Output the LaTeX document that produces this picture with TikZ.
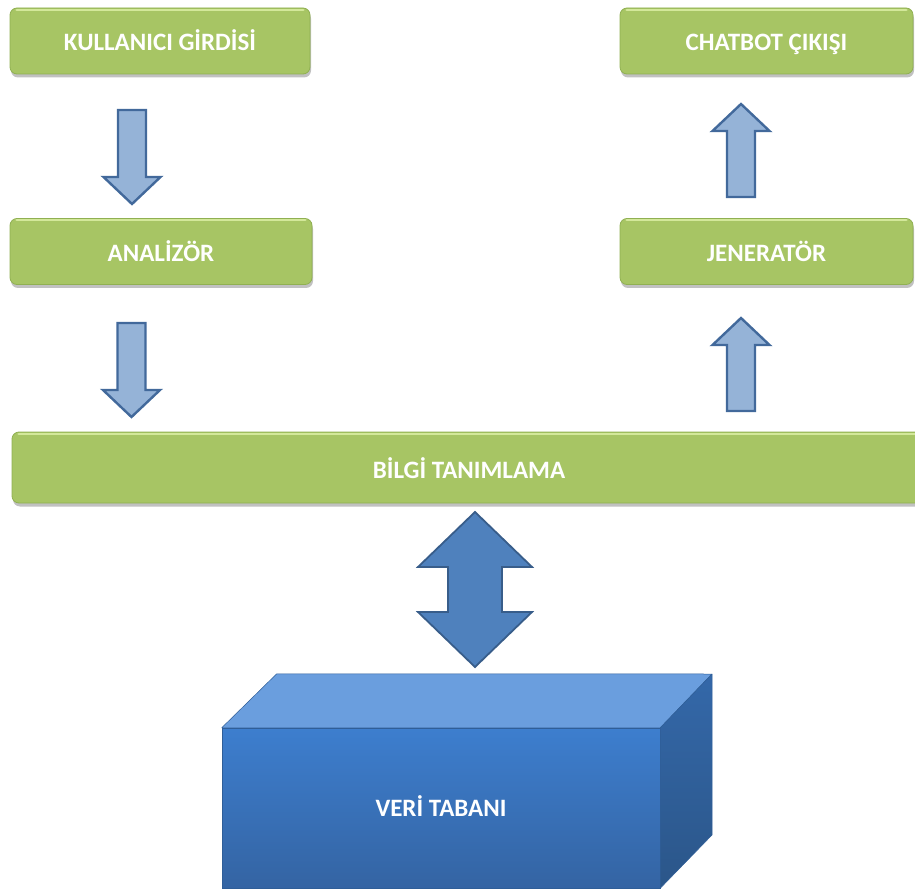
\documentclass[tikz,border=0pt]{standalone}
\usepackage{fontspec}
\setmainfont{Carlito}
\usetikzlibrary{shadows,calc}
\definecolor{gmid}{HTML}{A7C564}
\definecolor{gedge}{HTML}{90B052}
\definecolor{ghl}{HTML}{D3E89A}
\definecolor{afill}{HTML}{95B3D7}
\definecolor{aedge}{HTML}{42699B}
\definecolor{dfill}{HTML}{4F81BD}
\definecolor{dedge}{HTML}{385D8A}
\definecolor{btop}{HTML}{6A9EDE}
\definecolor{bfrontA}{HTML}{3D7ECE}
\definecolor{bfrontB}{HTML}{3464A3}
\definecolor{bsideA}{HTML}{3468A9}
\definecolor{bsideB}{HTML}{2B5689}
\definecolor{bedge}{HTML}{2F5E98}
\newcommand\hilite[1]{%
  \draw[ghl, line width=2.4pt, line cap=round] ($(#1.north west)+(7,2.2)$) -- ($(#1.north east)+(-7,2.2)$);}
\begin{document}
\begin{tikzpicture}[x=1pt,y=-1pt,
  gbox/.style={rounded corners=7pt, fill=gmid, draw=gedge, line width=0.8pt,
    minimum height=66pt, inner sep=0pt,
    drop shadow={shadow xshift=1pt, shadow yshift=-3.5pt, opacity=0.35, fill=black!70}},
  lbl/.style={text=white, font=\bfseries\fontsize{25}{25}\selectfont, inner sep=0pt,
    text height=16pt, text depth=0pt},
  blockarrow/.style={fill=afill, draw=aedge, line width=2.4pt, line join=miter},
  dblarrow/.style={fill=dfill, draw=dedge, line width=1.8pt, line join=miter},
  pics/downarr/.style={code={\draw[blockarrow] (-14,0) -- (14,0) -- (14,67) -- (28.5,67) -- (0,94) -- (-28.5,67) -- (-14,67) -- cycle;}},
  pics/uparr/.style={code={\draw[blockarrow] (0,0) -- (28.5,27) -- (14,27) -- (14,93) -- (-14,93) -- (-14,27) -- (-28.5,27) -- cycle;}},
  pics/updownarr/.style={code={\draw[dblarrow] (0,0) -- (57,55) -- (27,55) -- (27,100) -- (57,100) -- (0,155) -- (-57,100) -- (-27,100) -- (-27,55) -- (-57,55) -- cycle;}},
]
\useasboundingbox (0,0) rectangle (915,890);

% green boxes
\node[gbox, minimum width=300pt] (kg) at (160,41) {};
\node[gbox, minimum width=293pt] (cc) at (766.5,41) {};
\node[gbox, minimum width=302pt] (an) at (161,251.5) {};
\node[gbox, minimum width=293pt] (jn) at (766.5,251.5) {};
\node[gbox, minimum width=915pt, minimum height=71pt] (bt) at (469.5,467.5) {};
\hilite{kg}\hilite{cc}\hilite{an}\hilite{jn}\hilite{bt}

\node[lbl] (kgt) at ($(kg)+(0,2)$) {KULLANICI GİRDİSİ};
\node[lbl] (cct) at ($(cc)+(0,2)$) {CHATBOT ÇIKIŞI};
\node[lbl] (ant) at ($(an)+(0,2)$) {ANALİZÖR};
\node[lbl] (jnt) at ($(jn)+(0,2)$) {JENERATÖR};
\node[lbl] (btt) at (469,470) {BİLGİ TANIMLAMA};

% block arrows
\coordinate (a1) at (132,110);
\coordinate (a2) at (131.5,323);
\coordinate (a3) at (741,104);
\coordinate (a4) at (741,318);
\coordinate (a5) at (475,512);
\pic at (a1) {downarr};
\pic at (a2) {downarr};
\pic at (a3) {uparr};
\pic at (a4) {uparr};
\pic at (a5) {updownarr};

% database box
\node[draw=bedge, line width=0.5pt, top color=bfrontA, bottom color=bfrontB,
  minimum width=438pt, minimum height=160pt, inner sep=0pt] (db) at (441,808) {};
\draw[fill=btop, draw=bedge, line width=0.5pt, line join=round]
  (db.north west) -- ++(55,-54) -- (712,674) -- (db.north east) -- cycle;
\draw[top color=bsideA, bottom color=bsideB, draw=bedge, line width=0.5pt, line join=round]
  (db.north east) -- (712,674) -- (712,835) -- (db.south east) -- cycle;
\node[lbl] (dbt) at (db) {VERİ TABANI};
\end{tikzpicture}
\end{document}
